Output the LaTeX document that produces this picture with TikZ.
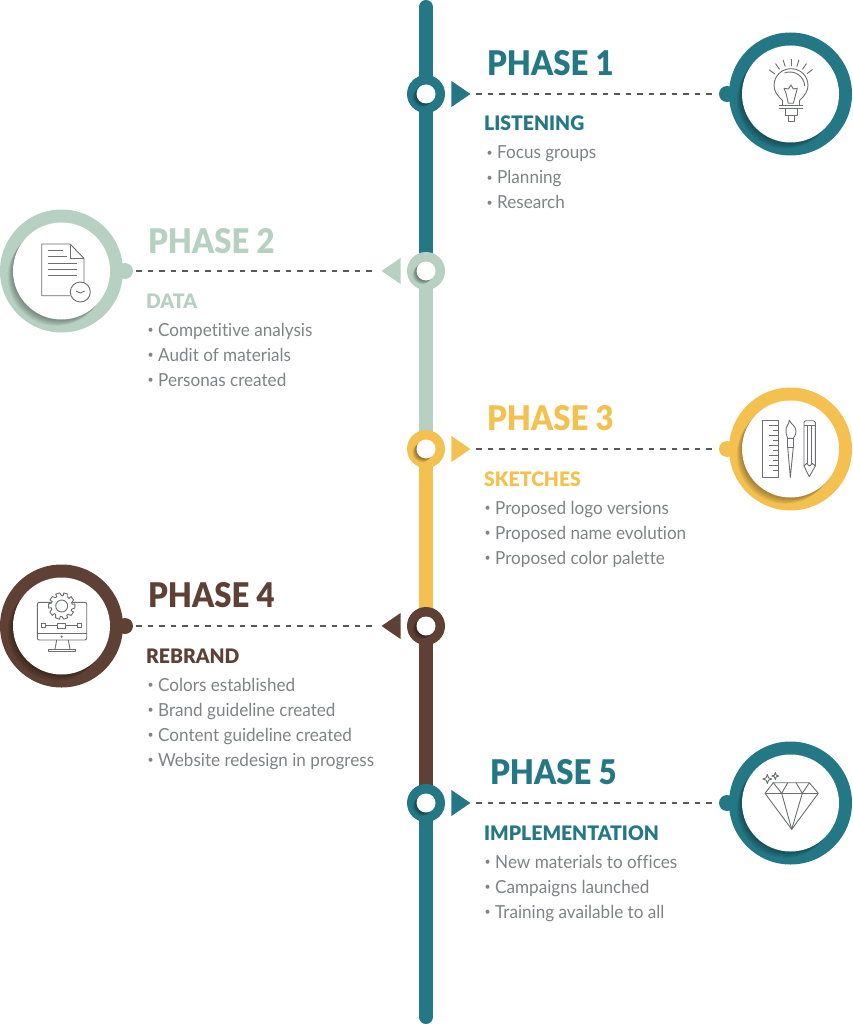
\documentclass[tikz,border=0pt]{standalone}
\usepackage{fontspec}
\setmainfont[Ligatures=NoCommon,FakeStretch=.95]{Lato}
\newfontfamily\phasefont[FakeStretch=.915]{Lato Black}
\newfontfamily\headfont[FakeStretch=.97]{Lato Black}
\usetikzlibrary{shapes.geometric,backgrounds}
\definecolor{tealc}{HTML}{247886}
\definecolor{sagec}{HTML}{B6D1C1}
\definecolor{yellowc}{HTML}{F4C151}
\definecolor{brownc}{HTML}{5F4034}
\definecolor{dotc}{HTML}{58595B}
\definecolor{textc}{HTML}{808285}
\definecolor{iconc}{HTML}{6D6E71}
\newcommand{\bul}{\makebox[11pt][l]{\hspace{.5pt}\raisebox{.3ex}{\fontsize{11}{11}\selectfont\textbullet}}}
\tikzset{
  spine/.style={line width=14pt,line cap=round},
  hubring/.style={circle,minimum size=38pt,inner sep=0pt},
  hubface/.style={circle,fill=white,minimum size=19pt,inner sep=0pt},
  bigring/.style={circle,minimum size=123pt,inner sep=0pt},
  bigface/.style={circle,fill=white,minimum size=97pt,inner sep=0pt},
  nubdot/.style={circle,minimum size=16pt,inner sep=0pt},
  tipmark/.style={isosceles triangle,isosceles triangle stretches,minimum width=26pt,minimum height=19pt,inner sep=0pt,anchor=apex},
  dotline/.style={draw=dotc,line width=2.7pt,dash pattern=on 5.5pt off 6pt},
  phasetext/.style={anchor=base west,inner sep=0pt,font=\fontsize{34}{34}\phasefont},
  headtext/.style={anchor=base west,inner sep=0pt,font=\fontsize{20}{20}\headfont},
  itemtext/.style={anchor=base west,inner sep=0pt,text=textc,font=\fontsize{18}{20}\selectfont},
  iconline/.style={draw=iconc,line width=.9pt,line join=round}
}
\begin{document}
\begin{tikzpicture}[x=1pt,y=-1pt]
    \useasboundingbox (0,0) rectangle (852,1024);
    % hubs on the spine
    \foreach \n/\y/\c in {1/94/tealc,2/271/sagec,3/449/yellowc,4/626/brownc,5/803/tealc} {
        \node[hubring,fill=\c] (hub\n) at (426,\y) {};
        \foreach \i in {1,...,6}
            \fill[black,opacity=.08] ({426-\i*.65},{\y+\i*.6}) circle (9.5pt);
        \node[hubface] (hubface\n) at (426,\y) {};
    }
    \coordinate (top) at (426,7);
    \coordinate (bottom) at (426,1017);
    \begin{scope}[on background layer]
        \draw[spine,tealc] (top) -- (hub2.center);
        \draw[spine,sagec] (hub2.center) -- (hub3.center);
        \draw[spine,yellowc] (hub3.center) -- (hub4.center);
        \draw[spine,brownc] (hub4.center) -- (hub5.center);
        \draw[spine,tealc] (hub5.center) -- (bottom);
    \end{scope}
    % rings on the right
    \foreach \n/\y/\c in {1/94/tealc,3/449/yellowc,5/803/tealc} {
        \node[nubdot,fill=\c] (nub\n) at (727,\y) {};
        \node[bigring,fill=\c] (ring\n) at (790.5,\y) {};
        \foreach \i in {1,...,7}
            \fill[black,opacity=.05] ({790.5-\i*.75},{\y+\i*.9}) circle (48.5pt);
        \node[bigface] (face\n) at (790.5,\y) {};
        \node[tipmark,fill=\c] (mark\n) at (471,\y) {};
        \draw[dotline,shorten <=5pt,shorten >=4pt] (mark\n.apex) -- (nub\n.west);
    }
    % rings on the left
    \foreach \n/\y/\c in {2/271/sagec,4/626/brownc} {
        \node[nubdot,fill=\c] (nub\n) at (125,\y) {};
        \node[bigring,fill=\c] (ring\n) at (61.5,\y) {};
        \foreach \i in {1,...,7}
            \fill[black,opacity=.05] ({61.5-\i*.75},{\y+\i*.9}) circle (48.5pt);
        \node[bigface] (face\n) at (61.5,\y) {};
        \node[tipmark,fill=\c,shape border rotate=180] (mark\n) at (381,\y) {};
        \draw[dotline,shorten <=3pt,shorten >=5pt] (nub\n.east) -- (mark\n.apex);
    }
    % texts
    \node[phasetext,text=tealc] (phase1) at (487,76) {PHASE 1};
    \node[headtext,text=tealc] (head1) at (484,131) {LISTENING};
    \foreach \y/\t in {159/Focus groups,184/Planning,209/Research}
        \node[itemtext] (item\y) at (486,\y) {\bul\t};
    \node[phasetext,text=sagec] (phase2) at (148,253) {PHASE 2};
    \node[headtext,text=sagec] (head2) at (146,308) {DATA};
    \foreach \y/\t in {336/Competitive analysis,361/Audit of materials,386/Personas created}
        \node[itemtext] (item\y) at (147,\y) {\bul\t};
    \node[phasetext,text=yellowc] (phase3) at (487,430) {PHASE 3};
    \node[headtext,text=yellowc] (head3) at (484,486) {SKETCHES};
    \foreach \y/\t in {514/Proposed logo versions,539/Proposed name evolution,564/Proposed color palette}
        \node[itemtext] (item\y) at (484,\y) {\bul\t};
    \node[phasetext,text=brownc] (phase4) at (148,607) {PHASE 4};
    \node[headtext,text=brownc] (head4) at (146,663) {REBRAND};
    \foreach \y/\t in {691/Colors established,716/Brand guideline created,741/Content guideline created,766/Website redesign in progress}
        \node[itemtext] (item\y) at (147,\y) {\bul\t};
    \node[phasetext,text=tealc] (phase5) at (490,784) {PHASE 5};
    \node[headtext,text=tealc] (head5) at (484,840) {IMPLEMENTATION};
    \foreach \y/\t in {868/New materials to offices,893/Campaigns launched,918/Training available to all}
        \node[itemtext] (item\y) at (484,\y) {\bul\t};
    % bulb
    \begin{scope}[shift={(790.5,94)},iconline]
        \draw (-8,6.4) .. controls (-13,2) and (-16.5,-3) .. (-16.5,-8.3) .. controls (-16.5,-18) and (-9,-25.3) .. (.5,-25.3)
            .. controls (10,-25.3) and (17.5,-18) .. (17.5,-8.3) .. controls (17.5,-3) and (14,2) .. (9,6.4) -- (9,11);
        \draw (-8,6.4) -- (-8,11);
        \draw (-6,-21) .. controls (4,-25) and (14,-17) .. (14.2,-8);
        \foreach \a in {216,235,253,270,287,305,323}
            \draw ([shift={(.5,-8.3)}]\a:20) -- ([shift={(.5,-8.3)}]\a:27);
        \draw (.5,-9) -- (2.8,-5) -- (6.8,-5.7) -- (5.5,-.7) -- (2.8,9.3) -- (-2.2,9.3) -- (-4.5,-.7) -- (-6.5,-5.7) -- (-2.2,-5) -- cycle;
        \draw (-11.2,11) -- (12.2,11);
        \draw (-11.2,14.3) -- (12.2,14.3);
        \draw (-5.5,14.3) -- (-5.5,21.7) -- (6.8,21.7) -- (6.8,14.3);
        \draw (-2.2,21.7) -- (-2.2,27) -- (3.5,27) -- (3.5,21.7);
    \end{scope}
    % document
    \begin{scope}[shift={(61.5,271)},iconline]
        \draw (8.5,24.7) -- (-19.8,24.7) -- (-19.8,-27) -- (8.5,-27) -- (22.5,-12.7) -- (22.5,11.3);
        \draw (8.5,-27) -- (8.5,-12.7) -- (22.5,-12.7);
        \draw (-13.2,-21) -- (1.8,-21);
        \draw (-13.2,-14.3) -- (5.2,-14.3);
        \foreach \y in {-7.7,-1.7,4.3}
            \draw (-13.2,\y) -- (15.2,\y);
        \draw (18.8,21) circle (10pt);
        \draw (14.5,20) -- (18.8,22) -- (23.2,20);
    \end{scope}
    % ruler, brush, pencil
    \begin{scope}[shift={(790.5,449)},iconline]
        \draw (-28.2,-28.3) rectangle (-12.2,28.3);
        \foreach \y in {-24,-14,-4,6,16}
            \draw (-12.2,\y) -- (-22,\y);
        \foreach \y in {-19,-9,1,11,21}
            \draw (-12.2,\y) -- (-18,\y);
        \draw (-1.2,-29) .. controls (-1,-25) and (-5,-23) .. (-4.5,-18) .. controls (-4.5,-14) and (-3,-12) .. (-2.8,-10.7)
            -- (2.8,-10.7) .. controls (3.5,-12) and (5.5,-14) .. (5.5,-18) .. controls (5.5,-23) and (0,-25) .. (-1.2,-29);
        \draw (-2.8,-10.7) rectangle (2.8,-1.7);
        \draw (-2.8,-1.7) -- (-.2,28.3) -- (2.8,-1.7);
        \draw[rounded corners=1.5pt] (13.5,17) -- (13.5,-28.3) -- (24.8,-28.3) -- (24.8,17);
        \draw (13.5,-24) -- (24.8,-24);
        \draw (13.5,17) -- (18.8,27.7) -- (24.8,17);
        \draw (13.5,17) -- (16,14.5) -- (19,17) -- (22,14.5) -- (24.8,17);
        \foreach \x in {17.2,21.2}
            \draw (\x,-24) -- (\x,15);
    \end{scope}
    % monitor with gear
    \begin{scope}[shift={(61.5,626)},iconline]
        \draw[rounded corners=2pt] (-24.2,-23.7) rectangle (25.2,14);
        \draw (-24.2,7.3) -- (25.2,7.3);
        \fill[iconc] (.2,10.7) circle (1.2pt);
        \draw (-4.8,14) -- (-6.5,23);
        \draw (6.8,14) -- (8.5,23);
        \draw (-13.2,23) rectangle (13.5,25.7);
        \draw (-15.8,-.3) -- (-3.8,-.3);
        \draw (3.5,-.3) -- (15.5,-.3);
        \draw (-20.4,-2.4) rectangle (-16,1.8);
        \draw (15.5,-2.4) rectangle (19.9,1.8);
        \draw (-3.8,-2.7) rectangle (3.5,2.3);
        \begin{scope}[shift={(.2,-20)}]
            \draw[fill=white] (-10:10.5) \foreach \a in {0,36,...,324} {
                -- ({\a-9}:13.3) -- ({\a+9}:13.3) -- ({\a+17}:10.5) -- ({\a+26}:10.5)
            } -- cycle;
            \draw (0,0) circle (6pt);
        \end{scope}
    \end{scope}
    % diamond
    \begin{scope}[shift={(790.5,803)},iconline]
        \draw (-17.2,-20.3) -- (18.8,-20.3) -- (27.8,-9.7) -- (1.2,26.3) -- (-25.5,-9.7) -- cycle;
        \draw (-25.5,-9.7) -- (27.8,-9.7);
        \draw (-17.2,-20.3) -- (-8.8,-9.7) -- (-2.8,-20.3);
        \draw (5.5,-20.3) -- (11.8,-9.7) -- (18.8,-20.3);
        \draw (-8.8,-9.7) -- (1.2,26.3) -- (11.8,-9.7);
        \draw (-23.2,-28.5) -- (-22,-25.2) -- (-18.7,-24) -- (-22,-22.8) -- (-23.2,-19.5) -- (-24.4,-22.8) -- (-27.7,-24) -- (-24.4,-25.2) -- cycle;
        \draw (-15.2,-30.5) -- (-14.3,-27.9) -- (-11.7,-27) -- (-14.3,-26.1) -- (-15.2,-23.5) -- (-16.1,-26.1) -- (-18.7,-27) -- (-16.1,-27.9) -- cycle;
    \end{scope}
\end{tikzpicture}
\end{document}
